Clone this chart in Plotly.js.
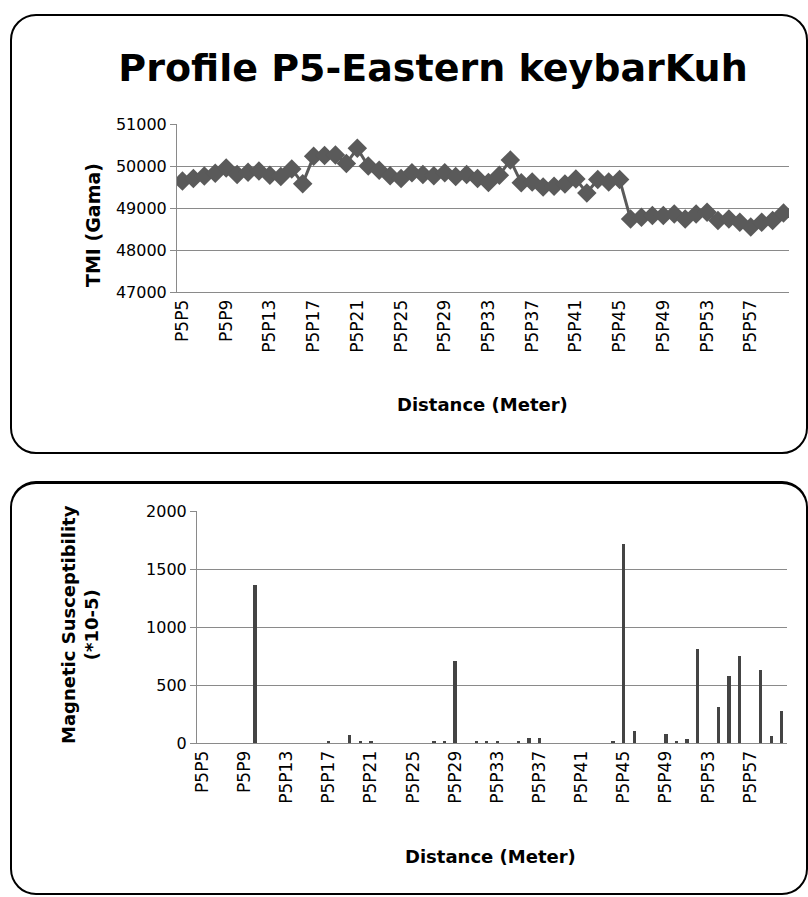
<!DOCTYPE html>
<html>
<head>
<meta charset="utf-8">
<script src="https://cdn.plot.ly/plotly-3.0.1.min.js"></script>
<style>
  html, body { margin: 0; padding: 0; background: #fff; }
  #wrap { position: relative; width: 808px; height: 897px; overflow: hidden; }
  #chart { position: absolute; left: 0; top: 0; width: 808px; height: 897px; }
  .panel { position: absolute; border: 2px solid #000; border-radius: 26px; pointer-events: none; box-sizing: border-box; }
</style>
</head>
<body>
<div id="wrap">
  <div id="chart"></div>
  <div class="panel" style="left:10px; top:14px; width:798px; height:440px;"></div>
  <div class="panel" style="left:10px; top:481px; width:798px; height:414px; border-top-width:3px;"></div>
</div>
<script>
// Stations P5P5 .. P5P60
const stations = ["P5P5","P5P6","P5P7","P5P8","P5P9","P5P10","P5P11","P5P12","P5P13","P5P14",
  "P5P15","P5P16","P5P17","P5P18","P5P19","P5P20","P5P21","P5P22","P5P23","P5P24",
  "P5P25","P5P26","P5P27","P5P28","P5P29","P5P30","P5P31","P5P32","P5P33","P5P34",
  "P5P35","P5P36","P5P37","P5P38","P5P39","P5P40","P5P41","P5P42","P5P43","P5P44",
  "P5P45","P5P46","P5P47","P5P48","P5P49","P5P50","P5P51","P5P52","P5P53","P5P54",
  "P5P55","P5P56","P5P57","P5P58","P5P59","P5P60"];

// Total magnetic intensity (Gama)
const tmi = [49640,49700,49760,49830,49950,49800,49850,49880,49780,49750,
  49930,49580,50230,50250,50260,50060,50420,50000,49900,49770,
  49700,49840,49800,49770,49840,49750,49800,49700,49610,49780,
  50140,49600,49620,49500,49520,49570,49690,49360,49680,49620,
  49680,48740,48780,48820,48820,48860,48740,48860,48900,48700,
  48740,48660,48550,48660,48700,48880];

// Magnetic susceptibility (*10-5)
const susceptibility = [0,0,0,0,0,1360,0,0,0,0,
  0,0,15,0,70,20,20,0,0,0,
  0,0,15,15,706,0,20,20,20,0,
  20,45,40,0,0,0,0,0,0,15,
  1715,100,0,0,77,15,35,809,0,312,
  579,751,0,631,63,272];

const tmiTicks = [47000,48000,49000,50000,51000];
const tmiTickText = ["47000","48000","49000","50000","51000"];
const susTicks = [0,500,1000,1500,2000];
const susTickText = ["0","500","1000","1500","2000"];
const tickStations = stations.filter((s, i) => i % 4 === 0);

const W = 808, H = 897;
const FONT = "DejaVu Sans, Liberation Sans, sans-serif";
const GRID = "#8a8a8a";

const traces = [
  {
    type: "scatter", mode: "lines+markers",
    x: stations, y: tmi, xaxis: "x", yaxis: "y",
    line: { color: "#5a5a5a", width: 3 },
    marker: { symbol: "diamond", size: 15, color: "#5a5a5a" },
    hoverinfo: "x+y"
  },
  {
    type: "bar",
    x: stations, y: susceptibility, xaxis: "x2", yaxis: "y2",
    width: 0.32,
    marker: { color: "#444444" }
  }
];

const catAxis = (domain, anchor) => ({
  type: "category", domain: domain, anchor: anchor,
  range: [-0.5, stations.length - 0.5],
  tickmode: "array", tickvals: tickStations, ticktext: tickStations,
  tickangle: -90, tickfont: { family: FONT, size: 17, color: "#000" },
  showgrid: false, showline: true, linecolor: GRID, linewidth: 1,
  ticks: "", zeroline: false, fixedrange: true
});

const valAxis = (domain, anchor, range, vals, texts) => ({
  domain: domain, anchor: anchor, range: range,
  tickmode: "array", tickvals: vals, ticktext: texts,
  tickfont: { family: FONT, size: 16, color: "#000" },
  showgrid: true, gridcolor: GRID, gridwidth: 1,
  showline: true, linecolor: GRID, linewidth: 1,
  ticks: "outside", ticklen: 6, tickcolor: GRID,
  zeroline: false, fixedrange: true
});

const layout = {
  width: W, height: H,
  margin: { l: 0, r: 0, t: 0, b: 0 },
  paper_bgcolor: "#fff", plot_bgcolor: "#fff",
  showlegend: false,
  bargap: 0,
  title: {
    text: "<b>Profile P5-Eastern keybarKuh</b>",
    x: 433 / W, y: 1 - 68 / H, xanchor: "center", yanchor: "middle",
    xref: "paper", yref: "paper",
    font: { family: FONT, size: 38, color: "#000" }
  },
  xaxis: catAxis([177 / W, 789 / W], "y"),
  yaxis: valAxis([1 - 292 / H, 1 - 124 / H], "x", [47000, 51000], tmiTicks, tmiTickText),
  xaxis2: catAxis([197 / W, 787 / W], "y2"),
  yaxis2: valAxis([1 - 743 / H, 1 - 511 / H], "x2", [0, 2000], susTicks, susTickText),
  annotations: [
    { text: "<b>Distance (Meter)</b>", xref: "paper", yref: "paper",
      x: 482 / W, y: 1 - 405 / H, xanchor: "center", yanchor: "middle", showarrow: false,
      font: { family: FONT, size: 18, color: "#000" } },
    { text: "<b>TMI (Gama)</b>", xref: "paper", yref: "paper",
      x: 93 / W, y: 1 - 225 / H, xanchor: "center", yanchor: "middle", showarrow: false,
      textangle: -90, font: { family: FONT, size: 19, color: "#000" } },
    { text: "<b>Distance (Meter)</b>", xref: "paper", yref: "paper",
      x: 490 / W, y: 1 - 856 / H, xanchor: "center", yanchor: "middle", showarrow: false,
      font: { family: FONT, size: 18, color: "#000" } },
    { text: "<b>Magnetic Susceptibility</b><br><b>(*10-5)</b>", xref: "paper", yref: "paper",
      x: 80 / W, y: 1 - 625 / H, xanchor: "center", yanchor: "middle", showarrow: false,
      textangle: -90, font: { family: FONT, size: 18, color: "#000" } }
  ]
};

Plotly.newPlot("chart", traces, layout, { displayModeBar: false, staticPlot: true });
</script>
</body>
</html>
